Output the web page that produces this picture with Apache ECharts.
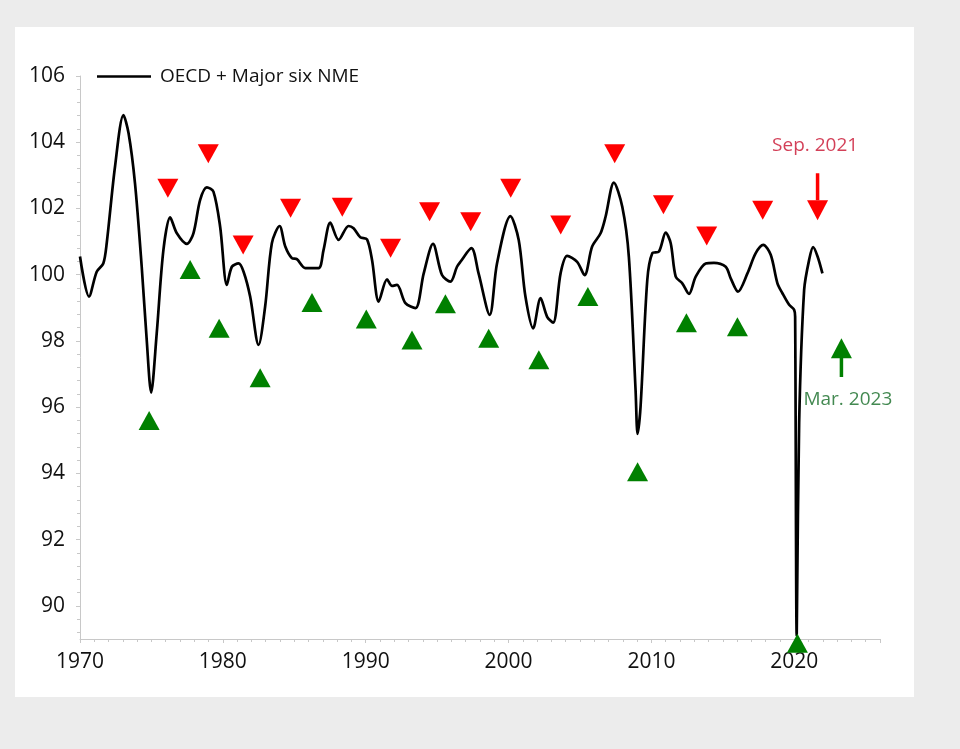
<!DOCTYPE html>
<html>
<head>
<meta charset="utf-8">
<script src="https://cdn.jsdelivr.net/npm/echarts@6.0.0/dist/echarts.min.js"></script>
<style>
  html, body { margin: 0; padding: 0; width: 960px; height: 749px; background: #ececec; overflow: hidden; }
  #panel { position: absolute; left: 15px; top: 27px; width: 899px; height: 670px; background: #ffffff; }
  #chart { width: 899px; height: 670px; }
</style>
</head>
<body>
<div id="panel"><div id="chart"></div></div>
<script>
// ---- data ----
const seriesName = 'OECD + Major six NME';
const years = [
  1970.00, 1970.63, 1971.17, 1971.63, 1971.87, 1972.45, 1973.04, 1973.40, 1973.85, 1974.32,
  1974.67, 1974.98, 1975.37, 1975.84, 1976.31, 1976.78, 1977.48, 1977.94, 1978.41, 1978.88,
  1979.34, 1979.81, 1980.28, 1980.63, 1981.10, 1981.45, 1981.91, 1982.50, 1982.96, 1983.43,
  1983.97, 1984.37, 1984.83, 1985.18, 1985.77, 1986.70, 1987.05, 1987.52, 1988.10, 1988.80,
  1989.15, 1989.62, 1990.09, 1990.44, 1990.91, 1991.49, 1991.84, 1992.19, 1992.78, 1993.48,
  1994.06, 1994.71, 1995.34, 1995.93, 1996.39, 1996.63, 1997.40, 1997.90, 1998.68, 1999.19,
  2000.13, 2000.71, 2001.18, 2001.72, 2002.24, 2002.70, 2003.12, 2003.64, 2004.10, 2004.80,
  2005.32, 2005.85, 2006.44, 2006.79, 2007.37, 2007.96, 2008.42, 2008.89, 2009.03, 2009.24,
  2009.71, 2010.06, 2010.53, 2011.00, 2011.35, 2011.70, 2012.16, 2012.63, 2013.10, 2013.80,
  2014.38, 2015.20, 2015.55, 2016.06, 2016.72, 2017.30, 2017.83, 2018.35, 2018.82, 2019.17,
  2019.64, 2019.99, 2020.06, 2020.17, 2020.34, 2020.69, 2021.04, 2021.32, 2021.63, 2021.97
];
const cli = [
  100.55, 99.34, 100.09, 100.34, 100.95, 103.26, 104.82, 104.27, 102.76, 100.24,
  98.03, 96.44, 98.23, 100.75, 101.73, 101.25, 100.93, 101.25, 102.26, 102.64,
  102.51, 101.45, 99.69, 100.24, 100.34, 100.09, 99.34, 97.88, 99.04, 100.95,
  101.47, 100.85, 100.50, 100.47, 100.20, 100.20, 100.75, 101.57, 101.05, 101.47,
  101.40, 101.13, 101.07, 100.45, 99.19, 99.86, 99.66, 99.69, 99.14, 98.99,
  100.04, 100.93, 99.99, 99.79, 100.24, 100.39, 100.80, 100.04, 98.79, 100.34,
  101.77, 101.05, 99.34, 98.38, 99.29, 98.73, 98.55, 100.04, 100.57, 100.39,
  99.99, 100.85, 101.25, 101.75, 102.78, 102.05, 100.54, 96.52, 95.19, 96.02,
  99.84, 100.65, 100.70, 101.27, 100.95, 99.94, 99.74, 99.42, 99.94, 100.34,
  100.36, 100.24, 99.89, 99.49, 100.04, 100.65, 100.90, 100.60, 99.74, 99.44,
  99.09, 98.94, 98.73, 89.10, 95.52, 99.54, 100.45, 100.83, 100.55, 100.04
];
// peaks (red, pointing down) and troughs (green, pointing up)
const peaks = [
  [1976.15, 102.61], [1978.98, 103.65], [1981.42, 100.90], [1984.74, 102.01], [1988.36, 102.04],
  [1991.74, 100.80], [1994.47, 101.90], [1997.35, 101.60], [2000.15, 102.61], [2003.65, 101.50],
  [2007.43, 103.65], [2010.84, 102.11], [2013.87, 101.17], [2017.79, 101.95]
];
const troughs = [
  [1974.84, 95.60], [1977.71, 100.16], [1979.74, 98.38], [1982.61, 96.89], [1986.24, 99.16],
  [1990.04, 98.66], [1993.24, 98.03], [1995.58, 99.12], [1998.61, 98.08], [2002.12, 97.43],
  [2005.55, 99.34], [2009.03, 94.05], [2012.45, 98.55], [2016.02, 98.43], [2020.22, 88.87]
];
// annotations
const sepLabel = { text: 'Sep. 2021', at: [2021.46, 103.90] };
const sepArrowStem = [[2021.63, 103.06], [2021.63, 102.25]];
const sepArrowHead = [[2021.63, 101.95]];
const marLabel = { text: 'Mar. 2023', at: [2023.75, 96.22] };
const marArrowStem = [[2023.30, 97.50], [2023.30, 96.91]];
const marArrowHead = [[2023.30, 97.78]];
// axes
const xMin = 1970, xMax = 2026, xStep = 10;
const yMin = 89, yMax = 106;
const yTickLabels = [90, 92, 94, 96, 98, 100, 102, 104, 106];
const yMinorStep = 0.4;

// ---- chart ----
const RED = '#ff0000', GREEN = '#008000';
const FONT = 'Open Sans';
const yMinorTicks = [];
for (let v = 89.2; v < yMax; v += yMinorStep) {
  const r = Math.round(v * 10) / 10;
  if (!yTickLabels.includes(r)) yMinorTicks.push(r);
}
const lineData = years.map((y, i) => [y, cli[i]]);

const chart = echarts.init(document.getElementById('chart'), null, { renderer: 'canvas' });
chart.setOption({
  animation: false,
  backgroundColor: '#ffffff',
  textStyle: { fontFamily: FONT },
  legend: {
    data: [{ name: seriesName, icon: 'rect' }],
    left: 82, top: 40, padding: 0,
    itemWidth: 54, itemHeight: 2.5,
    itemStyle: { color: '#000000', borderWidth: 0 },
    textStyle: { fontFamily: FONT, fontSize: 19, color: '#111111', padding: [0, 0, 0, 4] },
    selectedMode: false
  },
  grid: { left: 65, top: 49, width: 800, height: 563, containLabel: false, outerBoundsMode: 'none' },
  xAxis: {
    type: 'value', min: xMin, max: xMax, interval: xStep,
    axisLine: { show: true, lineStyle: { color: '#c8c8c8', width: 1 } },
    axisTick: { show: true, length: 4, lineStyle: { color: '#c8c8c8' } },
    minorTick: { show: true, splitNumber: 10, length: 3, lineStyle: { color: '#c8c8c8' } },
    splitLine: { show: false },
    axisLabel: { fontFamily: FONT, fontSize: 21, color: '#111111', margin: 13, showMaxLabel: false, formatter: v => String(v) }
  },
  yAxis: [{
    type: 'value', min: yMin, max: yMax, position: 'left',
    axisLine: { show: true, lineStyle: { color: '#c8c8c8', width: 1 } },
    axisTick: { show: true, length: 4, customValues: yTickLabels, lineStyle: { color: '#c8c8c8' } },
    axisLabel: { fontFamily: FONT, fontSize: 21, color: '#111111', margin: 15, customValues: yTickLabels },
    splitLine: { show: false }
  }, {
    type: 'value', min: yMin, max: yMax, position: 'left',
    axisLine: { show: false },
    axisTick: { show: true, length: 3, customValues: yMinorTicks, lineStyle: { color: '#c8c8c8' } },
    axisLabel: { show: false },
    splitLine: { show: false }
  }],
  series: [
    {
      name: seriesName, type: 'line', data: lineData,
      symbol: 'none', smooth: 0.3,
      lineStyle: { color: '#000000', width: 2.7 },
      itemStyle: { color: '#000000' },
      z: 3, silent: true
    },
    {
      name: 'peaks', type: 'scatter', data: peaks,
      symbol: 'triangle', symbolRotate: 180, symbolSize: [21, 19],
      itemStyle: { color: RED, opacity: 1 }, z: 4, silent: true
    },
    {
      name: 'troughs', type: 'scatter', data: troughs, clip: false,
      symbol: 'triangle', symbolSize: [21, 19],
      itemStyle: { color: GREEN, opacity: 1 }, z: 5, silent: true
    },
    {
      name: 'sepStem', type: 'line', data: sepArrowStem, symbol: 'none',
      lineStyle: { color: RED, width: 3.5 }, z: 4, silent: true
    },
    {
      name: 'sepHead', type: 'scatter', data: sepArrowHead,
      symbol: 'triangle', symbolRotate: 180, symbolSize: [21, 20],
      itemStyle: { color: RED, opacity: 1 }, z: 4, silent: true
    },
    {
      name: 'marStem', type: 'line', data: marArrowStem, symbol: 'none',
      lineStyle: { color: GREEN, width: 3.5 }, z: 4, silent: true
    },
    {
      name: 'marHead', type: 'scatter', data: marArrowHead,
      symbol: 'triangle', symbolSize: [21, 20],
      itemStyle: { color: GREEN, opacity: 1 }, z: 4, silent: true
    },
    {
      name: 'labels', type: 'scatter', silent: true, z: 6,
      symbolSize: 1, itemStyle: { color: 'rgba(0,0,0,0)' },
      data: [
        { value: sepLabel.at, label: { formatter: sepLabel.text, color: '#c8102e' } },
        { value: marLabel.at, label: { formatter: marLabel.text, color: '#146b26' } }
      ],
      label: { show: true, position: 'inside', fontFamily: FONT, fontSize: 19 }
    }
  ]
});
</script>
</body>
</html>
